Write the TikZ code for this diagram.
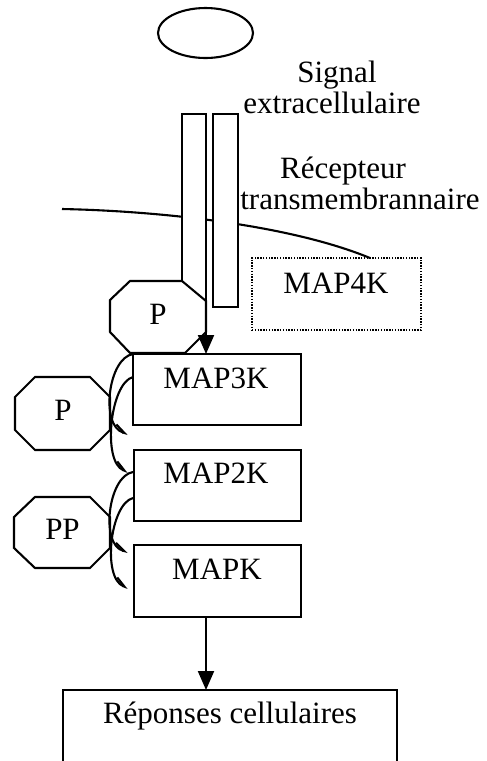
\documentclass[tikz,border=0pt]{standalone}
\usepackage{fontspec}
\setmainfont{Liberation Serif}
\usetikzlibrary{arrows.meta,shapes.geometric}
\begin{document}
\begin{tikzpicture}[x=0.5pt,y=-0.5pt,line width=1.05pt,
  txt/.style={font=\fontsize{15.5}{18}\selectfont,inner sep=0pt,anchor=base},
  box/.style={draw,inner sep=0pt,outer sep=0pt,anchor=north west},
  oct/.style={draw,fill=white,line join=miter},
  phos/.style={-{Straight Barb[harpoon,length=5pt,width=6pt]}},
  sigarrow/.style={-{Triangle[length=9.5pt,width=8pt]}}]
\useasboundingbox (0,0) rectangle (487,761);

% extracellular signal
\node[draw,ellipse,inner sep=0pt,minimum width=47.5pt,minimum height=25pt] (ligand) at (205.5,33) {};
\node[txt] (t1) at (337,82) {Signal};
\node[txt] (t2) at (332,113) {extracellulaire};
\node[txt] (t3) at (343,178) {Récepteur};
\node[txt] (t4) at (360,209) {transmembrannaire};

% membrane
\draw (62,209) .. controls (160,211) and (290,225) .. (370,258);

% MAP4K (dotted)
\node[box,line width=0.8pt,dash pattern=on 0.7pt off 0.7pt,minimum width=84.5pt,minimum height=36pt] (map4k) at (252,258) {};
\node[txt] (l4) at (336,293) {MAP4K};

% receptor bars
\node[box,fill=white,minimum width=12pt,minimum height=93.5pt] (barL) at (182,114) {};
\node[box,fill=white,minimum width=12.5pt,minimum height=96.5pt] (barR) at (213,114) {};

% first P octagon
\draw[oct] (130,281) -- (182,281) -- (206,301) -- (206,332) -- (185,353) -- (130,353) -- (110,332) -- (110,300) -- cycle;
\node[txt] (p1) at (158,324) {P};

% kinase boxes
\node[box,minimum width=84pt,minimum height=35.5pt] (map3k) at (133,354) {};
\node[txt] (l3) at (216,388) {MAP3K};
\node[box,minimum width=83.5pt,minimum height=35.5pt] (map2k) at (134,450) {};
\node[txt] (l2) at (216,483) {MAP2K};
\node[box,minimum width=83.5pt,minimum height=36pt] (mapk) at (134,545) {};
\node[txt] (l1) at (217,579) {MAPK};
\node[box,minimum width=167pt,minimum height=40pt] (rep) at (63,690) {};
\node[txt] (l0) at (230,723) {Réponses cellulaires};

% octagons P and PP
\draw[oct] (35,377) -- (90,377) -- (110,397) -- (110,430) -- (90,450) -- (35,450) -- (15,430) -- (15,397) -- cycle;
\node[txt] (p2) at (63,420) {P};
\draw[oct] (35,497) -- (90,497) -- (110,517) -- (110,548) -- (90,568) -- (35,568) -- (14,548) -- (14,517) -- cycle;
\node[txt] (pp) at (62.5,539) {PP};

% signal arrows
\coordinate (rec) at (206,301);
\draw[sigarrow] (rec) -- (rec |- map3k.north);
\coordinate (kout) at (206,617);
\draw[sigarrow] (kout) -- (kout |- rep.north);

% phosphorylation curves
\coordinate (a1s) at (133,354); \coordinate (a1e) at (128,434);
\coordinate (a2s) at (133,377); \coordinate (a2e) at (128,472);
\coordinate (b1s) at (133,472); \coordinate (b1e) at (128,552);
\coordinate (b2s) at (133,498); \coordinate (b2e) at (128,588);
\draw[phos] (a1s) .. controls (108,358) and (100,426) .. (a1e);
\draw[phos] (a2s) .. controls (110,383) and (102,462) .. (a2e);
\draw[phos] (b1s) .. controls (108,476) and (100,545) .. (b1e);
\draw[phos] (b2s) .. controls (110,504) and (102,578) .. (b2e);
\end{tikzpicture}
\end{document}
